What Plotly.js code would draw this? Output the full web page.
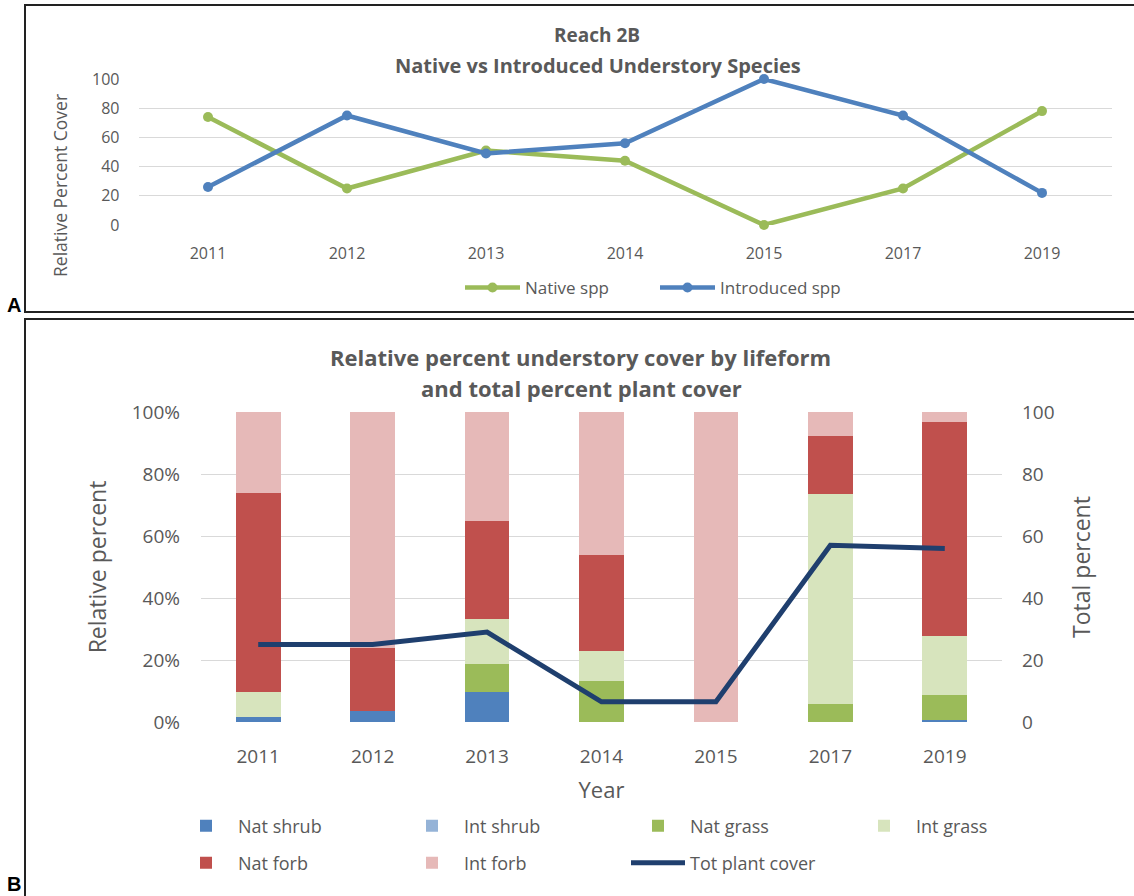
<!DOCTYPE html>
<html>
<head>
<meta charset="utf-8">
<script src="https://cdn.plot.ly/plotly-3.0.1.min.js"></script>
<style>html,body{margin:0;padding:0;background:#fff;}#chart{width:1134px;height:896px;}</style>
</head>
<body>
<div id="chart"></div>
<script>
// ---- Data ----
var years = ['2011', '2012', '2013', '2014', '2015', '2017', '2019'];

// Panel A: relative percent cover
var nativeSpp = [74, 25, 51, 44, 0, 25, 78];
var introducedSpp = [26, 75, 49, 56, 100, 75, 22];

// Panel B: relative percent understory cover by lifeform
var natShrub = [1.5, 3.5, 9.7, 0, 0, 0, 0.5];
var intShrub = [0, 0, 0, 0, 0, 0, 0];
var natGrass = [0, 0, 9.1, 13.3, 0, 5.9, 8.1];
var intGrass = [8.2, 0, 14.5, 9.7, 0, 67.8, 19.1];
var natForb = [64.3, 20.5, 31.5, 31, 0, 18.5, 69.1];
var intForb = [26, 76, 35.2, 46, 100, 7.8, 3.2];
var totPlantCover = [25, 25, 29, 6.5, 6.5, 57, 56];

// ---- Helpers ----
var W = 1134, H = 896;
function px(x) { return x / W; }
function py(y) { return 1 - y / H; }
var GRAY = '#595959';
var FONT = '"Open Sans", "Noto Sans", sans-serif';

var traces = [
  {x: years, y: nativeSpp, name: 'Native spp', type: 'scatter', mode: 'lines+markers',
   xaxis: 'x', yaxis: 'y', legend: 'legend', cliponaxis: false,
   line: {color: '#9BBB59', width: 4.5}, marker: {color: '#9BBB59', size: 10}},
  {x: years, y: introducedSpp, name: 'Introduced spp', type: 'scatter', mode: 'lines+markers',
   xaxis: 'x', yaxis: 'y', legend: 'legend', cliponaxis: false,
   line: {color: '#4F81BD', width: 4.5}, marker: {color: '#4F81BD', size: 10}},

  {x: years, y: natShrub, name: 'Nat shrub', type: 'bar', xaxis: 'x2', yaxis: 'y2', legend: 'legend2',
   marker: {color: '#4F81BD'}},
  {x: years, y: intShrub, name: 'Int shrub', type: 'bar', xaxis: 'x2', yaxis: 'y2', legend: 'legend2',
   marker: {color: '#95B3D7'}},
  {x: years, y: natGrass, name: 'Nat grass', type: 'bar', xaxis: 'x2', yaxis: 'y2', legend: 'legend2',
   marker: {color: '#9BBB59'}},
  {x: years, y: intGrass, name: 'Int grass', type: 'bar', xaxis: 'x2', yaxis: 'y2', legend: 'legend2',
   marker: {color: '#D7E4BD'}},
  {x: years, y: natForb, name: 'Nat forb', type: 'bar', xaxis: 'x2', yaxis: 'y2', legend: 'legend3',
   marker: {color: '#C0504D'}},
  {x: years, y: intForb, name: 'Int forb', type: 'bar', xaxis: 'x2', yaxis: 'y2', legend: 'legend3',
   marker: {color: '#E6B9B8'}},
  {x: years, y: totPlantCover, name: 'Tot plant cover', type: 'scatter', mode: 'lines',
   xaxis: 'x2', yaxis: 'y3', legend: 'legend3',
   line: {color: '#1F3F6E', width: 5}}
];

var layout = {
  width: W, height: H,
  margin: {l: 0, r: 0, t: 0, b: 0},
  paper_bgcolor: '#ffffff', plot_bgcolor: 'rgba(0,0,0,0)',
  font: {family: FONT, color: GRAY},
  barmode: 'stack', bargap: 0.61,
  showlegend: true,

  xaxis: {domain: [px(138.5), px(1111.5)], anchor: 'y', type: 'category', range: [-0.5, 6.5],
          showgrid: false, zeroline: false, showline: false, ticks: '',
          tickfont: {size: 16, color: GRAY}, ticklabelstandoff: 17},
  yaxis: {domain: [py(225), py(79)], anchor: 'x', range: [0, 100], dtick: 20,
          gridcolor: '#D9D9D9', gridwidth: 1, zeroline: false, showline: false, ticks: '',
          tickfont: {size: 16, color: GRAY}, ticklabelstandoff: 18},

  xaxis2: {domain: [px(201), px(1002)], anchor: 'y2', type: 'category', range: [-0.5, 6.5],
           showgrid: false, zeroline: false, showline: false, ticks: '',
           tickfont: {size: 19, color: GRAY}, ticklabelstandoff: 21,
           title: {text: 'Year', font: {size: 22, color: GRAY}, standoff: 14}},
  yaxis2: {domain: [py(722), py(412)], anchor: 'x2', range: [0, 100], dtick: 20, ticksuffix: '%',
           gridcolor: '#D9D9D9', gridwidth: 1, zeroline: false, showline: false, ticks: '',
           tickfont: {size: 19, color: GRAY}, ticklabelstandoff: 20,
           title: {text: 'Relative percent', font: {size: 23, color: GRAY}, standoff: 18}},
  yaxis3: {overlaying: 'y2', side: 'right', anchor: 'x2', range: [0, 100], dtick: 20,
           showgrid: false, zeroline: false, showline: false, ticks: '',
           tickfont: {size: 19, color: GRAY}, ticklabelstandoff: 19,
           title: {text: 'Total percent', font: {size: 23, color: GRAY}, standoff: 20}},

  legend: {orientation: 'h', x: px(460), xanchor: 'left', y: py(288), yanchor: 'middle',
           itemwidth: 55, entrywidth: 125, entrywidthmode: 'pixels',
           font: {size: 17, color: GRAY}, bgcolor: 'rgba(0,0,0,0)', traceorder: 'normal'},
  legend2: {orientation: 'h', x: px(174), xanchor: 'left', y: py(826), yanchor: 'middle',
            itemwidth: 54, entrywidth: 157, entrywidthmode: 'pixels',
            font: {size: 18, color: GRAY}, bgcolor: 'rgba(0,0,0,0)', traceorder: 'normal'},
  legend3: {orientation: 'h', x: px(174), xanchor: 'left', y: py(863), yanchor: 'middle',
            itemwidth: 54, entrywidth: 157, entrywidthmode: 'pixels',
            font: {size: 18, color: GRAY}, bgcolor: 'rgba(0,0,0,0)', traceorder: 'normal'},

  annotations: [
    {text: '<b>Reach 2B</b>', xref: 'paper', yref: 'paper',
     x: px(597), y: py(35), xanchor: 'center', yanchor: 'middle', showarrow: false,
     font: {size: 19, color: GRAY}},
    {text: '<b>Native vs Introduced Understory Species</b>', xref: 'paper', yref: 'paper',
     x: px(598), y: py(65), xanchor: 'center', yanchor: 'middle', showarrow: false,
     font: {size: 20, color: GRAY}},
    {text: 'Relative Percent Cover', xref: 'paper', yref: 'paper',
     x: px(60), y: py(186), xanchor: 'center', yanchor: 'middle', textangle: -90, showarrow: false,
     font: {size: 17.5, color: GRAY}},
    {text: '<b>Relative percent understory cover by lifeform</b>',
     xref: 'paper', yref: 'paper', x: px(580), y: py(357), xanchor: 'center', yanchor: 'middle',
     showarrow: false, font: {size: 22, color: GRAY}},
    {text: '<b>and total percent plant cover</b>',
     xref: 'paper', yref: 'paper', x: px(581), y: py(388), xanchor: 'center', yanchor: 'middle',
     showarrow: false, font: {size: 22, color: GRAY}},
    {text: '<b>A</b>', xref: 'paper', yref: 'paper', x: px(14), y: py(305), xanchor: 'center', yanchor: 'middle',
     showarrow: false, font: {family: 'Liberation Sans, Arial, sans-serif', size: 20, color: '#000'}},
    {text: '<b>B</b>', xref: 'paper', yref: 'paper', x: px(14), y: py(884), xanchor: 'center', yanchor: 'middle',
     showarrow: false, font: {family: 'Liberation Sans, Arial, sans-serif', size: 20, color: '#000'}}
  ],

  shapes: [
    {type: 'rect', xref: 'paper', yref: 'paper', x0: px(25), x1: 1.02, y0: py(312), y1: py(5),
     line: {color: '#222', width: 2}, fillcolor: 'rgba(0,0,0,0)'},
    {type: 'rect', xref: 'paper', yref: 'paper', x0: px(25), x1: 1.02, y0: -0.02, y1: py(319),
     line: {color: '#222', width: 2}, fillcolor: 'rgba(0,0,0,0)'}
  ]
};

Plotly.newPlot('chart', traces, layout, {displayModeBar: false, staticPlot: true});
</script>
</body>
</html>
